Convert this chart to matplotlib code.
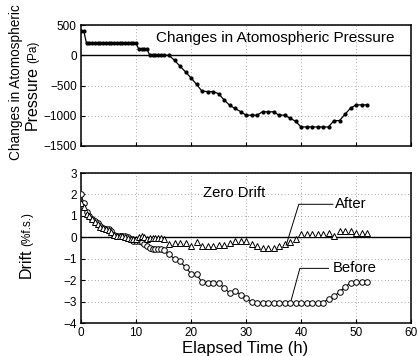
import matplotlib
matplotlib.use("Agg")
import matplotlib.pyplot as plt

plt.rcParams['font.family'] = ['Liberation Sans', 'DejaVu Sans']
plt.rcParams['axes.unicode_minus'] = True

# ---------------- data ----------------
t_early = [0, 0.5, 1, 1.5, 2, 2.5, 3, 3.5, 4, 4.5, 5, 5.5, 6, 6.5, 7, 7.5,
           8, 8.5, 9, 9.5, 10, 10.5, 11, 11.5, 12, 12.5, 13, 13.5, 14, 14.5, 15]
t_late = [16, 17, 18, 19, 20, 21, 22, 23, 24, 25, 26, 27, 28, 29, 30, 31, 32,
          33, 34, 35, 36, 37, 38, 39, 40, 41, 42, 43, 44, 45, 46, 47, 48, 49,
          50, 51, 52]

pressure_early = [400, 400, 200, 200, 200, 200, 200, 200, 200, 200, 200, 200,
                  200, 200, 200, 200, 200, 200, 200, 200, 200, 100, 100, 100,
                  100, 0, 0, 0, 0, 0, 0]
pressure_late = [0, -85, -180, -275, -375, -480, -595, -600, -600, -635, -735,
                 -825, -880, -930, -990, -990, -990, -935, -935, -935, -990,
                 -990, -1040, -1090, -1185, -1185, -1185, -1185, -1185, -1185,
                 -1080, -1080, -975, -875, -820, -820, -820]

before_early = [2.0, 1.6, 1.2, 1.0, 0.85, 0.75, 0.65, 0.55, 0.45, 0.4, 0.4,
                0.3, 0.1, 0.05, 0.05, 0.05, 0.05, 0.0, -0.1, -0.15, -0.15,
                -0.15, -0.2, -0.3, -0.4, -0.5, -0.55, -0.55, -0.55, -0.55, -0.6]
before_late = [-0.8, -1.0, -1.12, -1.4, -1.7, -1.72, -2.1, -2.12, -2.12, -2.12,
               -2.35, -2.6, -2.5, -2.67, -2.85, -3.03, -3.05, -3.05, -3.05,
               -3.05, -3.05, -3.05, -3.05, -3.05, -3.05, -3.05, -3.05, -3.05,
               -3.05, -2.87, -2.76, -2.55, -2.32, -2.13, -2.1, -2.1, -2.1]

after_early = [1.6, 1.4, 1.1, 1.0, 0.85, 0.7, 0.6, 0.5, 0.45, 0.4, 0.35, 0.25,
               0.1, 0.05, 0.05, 0.05, 0.0, -0.05, -0.1, -0.1, -0.1, 0.0, 0.05,
               0.0, -0.1, -0.05, -0.05, -0.05, -0.05, -0.05, -0.1]
after_late = [-0.3, -0.25, -0.25, -0.25, -0.4, -0.2, -0.4, -0.4, -0.4, -0.35,
              -0.35, -0.25, -0.15, -0.15, -0.15, -0.33, -0.4, -0.5, -0.5, -0.5,
              -0.42, -0.3, -0.2, -0.08, 0.14, 0.14, 0.14, 0.14, 0.14, 0.18,
              0.07, 0.3, 0.3, 0.3, 0.2, 0.2, 0.2]

time = t_early + t_late
pressure = pressure_early + pressure_late
before = before_early + before_late
after = after_early + after_late

x_ticks = [0, 10, 20, 30, 40, 50, 60]
p_ticks = [500, 0, -500, -1000, -1500]
d_ticks = [3, 2, 1, 0, -1, -2, -3, -4]

# ---------------- figure ----------------
W, H = 419, 356
fig = plt.figure(figsize=(W / 100, H / 100), dpi=100)

def px_axes(l, t, r, b):
    return fig.add_axes([l / W, 1 - b / H, (r - l) / W, (b - t) / H])

ax1 = px_axes(81, 25, 411, 146)
ax2 = px_axes(81, 173, 411, 323)

grid_kw = dict(color='0.55', lw=0.6, ls=(0, (1, 3)))
for ax in (ax1, ax2):
    ax.set_xlim(0, 60)
    ax.set_xticks(x_ticks)
    ax.grid(True, **grid_kw)
    ax.set_axisbelow(True)
    for s in ax.spines.values():
        s.set_linewidth(1.1)
    ax.tick_params(direction='in', length=3, width=0.8, labelsize=8.5,
                   pad=3, top=False, right=False)
    ax.axhline(0, color='black', lw=1.0, zorder=2)

# top panel
ax1.set_ylim(-1500, 500)
ax1.set_yticks(p_ticks)
ax1.tick_params(labelbottom=False)
ax1.plot(time, pressure, color='black', lw=0.9, marker='o', ms=2.0,
         mfc='black', mec='black', zorder=3)
ax1.text(13.6, 280, "Changes in Atomospheric Pressure", fontsize=11,
         ha='left', va='center')

# bottom panel
ax2.set_ylim(-4, 3)
ax2.set_yticks(d_ticks)
ax2.plot(time, before, color='black', lw=0.8, marker='o', ms=4.0,
         mfc='white', mec='black', mew=0.7, zorder=3)
ax2.plot(time, after, ls='none', marker='^', ms=4.2,
         mfc='white', mec='black', mew=0.7, zorder=4)
ax2.text(22.2, 2.05, "Zero Drift", fontsize=10.7, ha='left', va='center')

ax2.plot([45.8, 39.6, 37.3], [1.54, 1.54, -0.37], color='black', lw=0.7,
         zorder=5)
ax2.text(46.2, 1.54, "After", fontsize=10.7, ha='left', va='center')
ax2.plot([45.0, 39.8, 38.2], [-1.45, -1.45, -2.95], color='black', lw=0.7,
         zorder=5)
ax2.text(45.8, -1.42, "Before", fontsize=10.7, ha='left', va='center')

# axis labels
fig.text(245 / W, 1 - 349 / H, "Elapsed Time (h)", fontsize=12,
         ha='center', va='center')

t1 = fig.text(16 / W, 1 - 160 / H, "Changes in Atomospheric", fontsize=9.8,
              rotation=90, ha='center', va='bottom')
t2 = fig.text(32 / W, 1 - 130 / H, "Pressure", fontsize=11.5,
              rotation=90, ha='center', va='bottom')
ax1.annotate("(Pa)", xy=(0.5, 1.0), xycoords=t2, xytext=(1.0, 2),
             textcoords='offset points', fontsize=8.5, rotation=90,
             ha='center', va='bottom', annotation_clip=False)

t3 = fig.text(26 / W, 1 - 278 / H, "Drift", fontsize=11.5,
              rotation=90, ha='center', va='bottom')
ax2.annotate("(%f.s.)", xy=(0.5, 1.0), xycoords=t3, xytext=(1.0, 2),
             textcoords='offset points', fontsize=8.5, rotation=90,
             ha='center', va='bottom', annotation_clip=False)

fig.savefig("out.png", dpi=100)
